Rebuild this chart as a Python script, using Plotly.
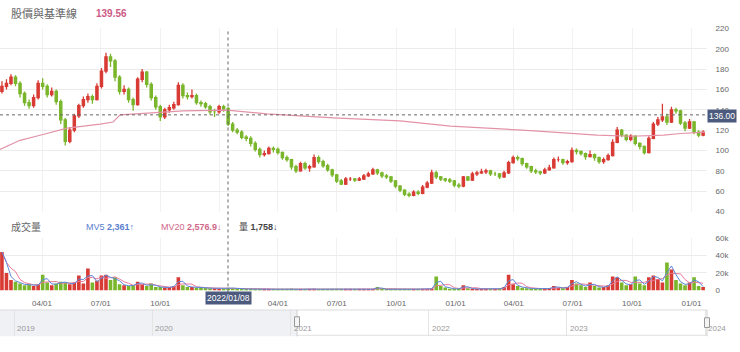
import pandas as pd
import plotly.graph_objects as go

# ---------------- data (weekly candles) ----------------
week_start = "2021-01-29"
opens = [158,163,166,172,166,156,147,144,152,166, 163,155,158,148,130,109,120,134,144,150,
         153,150,163,178,192,188,172,158,160,150, 145,170,177,165,152,143,133,140,142,145,
         164,154,153,154,147,146,143,138,138,143, 141,126,120,118,113,112,107,101,96,97,
         102,101,98,93,91,84,80,87,83,84, 93,89,85,81,76,70,67,72,72,71,
         72,75,77,81,78,75,74,70,65,61, 57,56,59,58,64,68,78,74,72,71,
         70,66,65,74,71,77,78,79,80,77, 77,74,78,88,93,92,87,84,80,79,
         78,81,83,91,91,88,89,100,99,97, 94,96,93,89,91,95,108,120,115,111,
         114,107,104,98,112,126,130,133,128,140, 139,127,122,128,118,115]
closes = [163,166,172,166,156,147,144,152,166,163, 155,158,148,130,109,120,134,144,150,153,
          150,163,178,192,188,172,158,160,150,145, 170,177,165,152,143,133,140,142,145,164,
          154,153,154,147,146,143,138,138,143,141, 126,120,118,113,112,107,101,96,97,102,
          101,98,93,91,84,80,87,83,84,93, 89,85,81,76,70,67,72,72,71,72,
          75,77,81,78,75,74,70,65,61,57, 56,59,58,64,68,78,74,72,71,70,
          66,65,74,71,77,78,79,80,77,77, 74,78,88,93,92,87,84,80,79,78,
          81,83,91,91,88,89,100,99,97,94, 96,93,89,91,95,108,120,115,111,114,
          107,104,98,112,126,130,133,128,140,139, 127,122,128,118,115,118]
highs = [168,170,175,174,168,158,150,155,169,171, 165,162,160,150,132,123,136,146,153,156,
         155,166,181,196,195,190,174,164,162,152, 172,180,178,167,154,145,142,145,148,167,
         166,157,160,156,149,148,145,141,145,145, 143,128,122,120,115,114,109,103,100,104,
         104,103,99,95,92,86,89,89,86,96, 95,91,87,82,77,72,74,74,73,74,
         77,79,83,82,79,77,75,71,66,62, 59,61,61,66,70,81,80,75,73,73,
         71,68,75,75,79,80,82,82,81,79, 78,80,90,95,95,93,88,85,82,80,
         83,86,93,94,92,91,103,102,100,98, 100,97,94,93,97,111,123,121,116,116,
         115,108,105,114,128,133,146,136,143,142, 140,129,131,129,120,120]
lows = [156,160,164,163,152,144,141,142,150,160, 152,153,145,126,105,107,118,132,142,147,
        146,149,161,176,182,168,155,155,147,139, 144,167,162,149,140,129,131,137,140,144,
        151,150,151,145,143,141,135,133,136,138, 124,118,116,111,109,104,99,93,94,96,
        98,96,91,89,81,78,79,81,79,83, 87,83,79,74,68,66,66,70,69,70,
        71,74,76,76,73,72,68,63,59,55, 54,55,56,57,63,67,72,70,69,68,
        64,63,64,70,70,75,77,77,75,75, 72,73,77,87,90,85,82,78,77,76,
        77,80,82,89,86,86,88,96,95,91, 93,90,87,87,90,94,107,113,109,109,
        105,101,96,97,111,124,128,125,127,136, 125,119,121,116,113,114]
volumes_k = [44,20,12,10,8,6,7,5,7,18, 9,6,8,10,9,7,9,17,8,25,
             9,11,17,18,12,15,7,6,5,6, 10,7,5,8,4,4,3,4,5,15,
             6,4,4,3,3,3,2.5,2.5,2,2, 3,2.5,2,2,1.5,1.8,1.2,1.5,2,1.3,
             1.6,1.2,1.8,1.5,2.2,1.4,1.2,1.6,2,1.3, 1.5,1.8,1.2,1.4,1.7,1.3,1.5,1.2,1.6,1.9,
             1.4,1.3,1.6,4,1.5,1.2,1.8,1.4,2,1.6, 1.3,1.5,1.8,1.4,1.6,2.2,16,5,3.5,2,
             1.8,2,6,2.5,2,1.6,1.8,1.5,2,1.7, 2.2,4,18,7,5,3,2.5,2,2.2,2,
             1.8,2.5,5,3,2.5,4,12,8,6,4, 9,5,3.5,4,6,16,15,9,6,7,
             16,8,6,15,17,13,9,32,24,12, 8,6,9,15,5,4]

base_dates = ["2021-01-26","2021-02-26","2021-03-29","2021-05-10","2021-06-30","2021-07-20",
              "2021-07-31","2021-09-15","2021-11-05","2022-01-12","2022-02-17","2022-03-15",
              "2022-06-26","2022-10-07","2022-12-24","2023-04-27","2023-08-08","2023-09-29",
              "2023-11-19","2023-12-15","2024-01-22"]
base_values = [101,110,115,122,126,128,135,137,139,139.6,137.5,136,132,129,124,119.5,115,114,
               115,116.7,118]

price_ticks = [40,60,80,100,120,140,160,180,200,220]
vol_ticks = [0,20000,40000,60000]
vol_tick_text = ["0","20k","40k","60k"]
quarter_ticks = ["2021-04-01","2021-07-01","2021-10-01","2022-01-01","2022-04-01","2022-07-01",
                 "2022-10-01","2023-01-01","2023-04-01","2023-07-01","2023-10-01","2024-01-01"]
# the 2022-01-01 label sits under the crosshair date box in the reference
vol_label_ticks = [d for d in quarter_ticks if d != "2022-01-01"]
year_ticks = ["2019-01-01","2020-01-01","2021-01-01","2022-01-01","2023-01-01","2024-01-01"]
year_labels = ["2019","2020","2021","2022","2023","2024"]

# ---------------- figure ----------------
W, H = 740, 352
RED = "#d83a34"
GREEN = "#7ab62c"
FONT = "Liberation Sans, Arial, Noto Sans CJK TC, sans-serif"

def px(x):
    return x / W

def py(y):
    return 1 - y / H

dates = pd.date_range(week_start, periods=len(closes), freq="7D")
volumes = pd.Series(volumes_k) * 1000
vol_colors = [RED if c >= o else GREEN for o, c in zip(opens, closes)]
mv_short = volumes.rolling(2, min_periods=1).mean()
mv_long = volumes.rolling(4, min_periods=1).mean()

fig = go.Figure()
fig.add_trace(go.Candlestick(
    x=dates, open=opens, high=highs, low=lows, close=closes,
    increasing=dict(line=dict(color=RED, width=1.3), fillcolor=RED),
    decreasing=dict(line=dict(color=GREEN, width=1.3), fillcolor=GREEN),
    whiskerwidth=0, xaxis="x", yaxis="y", showlegend=False, hoverinfo="skip"))
fig.add_trace(go.Scatter(x=base_dates, y=base_values, mode="lines",
                         line=dict(color="#e393a8", width=1.2), xaxis="x", yaxis="y",
                         showlegend=False, hoverinfo="skip"))
fig.add_trace(go.Bar(x=dates, y=volumes, marker=dict(color=vol_colors, line=dict(width=0)),
                     xaxis="x2", yaxis="y2", showlegend=False, hoverinfo="skip"))
fig.add_trace(go.Scatter(x=dates, y=mv_long, mode="lines", line=dict(color="#e87a9a", width=1),
                         xaxis="x2", yaxis="y2", showlegend=False, hoverinfo="skip"))
fig.add_trace(go.Scatter(x=dates, y=mv_short, mode="lines", line=dict(color="#5b86d6", width=1),
                         xaxis="x2", yaxis="y2", showlegend=False, hoverinfo="skip"))
fig.add_trace(go.Scatter(x=[year_ticks[0]], y=[0.5], mode="markers", marker=dict(opacity=0),
                         xaxis="x3", yaxis="y3", showlegend=False, hoverinfo="skip"))

xdom = [0, 707 / W]
xrange_main = ["2021-01-26", "2024-01-25"]
tickfont = dict(family=FONT, size=8, color="#666")

fig.update_layout(
    width=W, height=H, margin=dict(l=0, r=0, t=0, b=0),
    paper_bgcolor="white", plot_bgcolor="white", bargap=0.2,
    font=dict(family=FONT),
    xaxis=dict(domain=xdom, range=xrange_main, type="date", anchor="y",
               tickvals=quarter_ticks, showticklabels=False, showgrid=True,
               gridcolor="#f1f1f1", zeroline=False, showline=False,
               rangeslider=dict(visible=False)),
    yaxis=dict(domain=[py(213), py(25)], range=[40, 220], side="right", anchor="x",
               tickvals=price_ticks, showgrid=True, gridcolor="#ececec", zeroline=False,
               ticks="outside", ticklen=6, tickcolor="rgba(0,0,0,0)", tickfont=tickfont),
    xaxis2=dict(domain=xdom, range=xrange_main, type="date", anchor="y2",
                tickvals=vol_label_ticks, tickformat="%m/%d", showgrid=True,
                gridcolor="#f1f1f1", zeroline=False, showline=False, tickfont=tickfont,
                ticks="outside", ticklen=5, tickcolor="rgba(0,0,0,0)"),
    yaxis2=dict(domain=[py(294), py(240)], range=[0, 60000], side="right", anchor="x2",
                tickvals=vol_ticks, ticktext=vol_tick_text, showgrid=True,
                gridcolor="#ececec", zeroline=False, ticks="outside", ticklen=6,
                tickcolor="rgba(0,0,0,0)", tickfont=tickfont),
    xaxis3=dict(domain=xdom, range=["2018-11-25", "2024-01-06"], type="date", anchor="y3",
                tickvals=year_ticks, showticklabels=False, showgrid=True,
                gridcolor="#e4e4e4", zeroline=False, showline=False),
    yaxis3=dict(domain=[py(341), py(314)], range=[0, 1], visible=False, anchor="x3"),
)

shapes = [
    # navigator unselected area
    dict(type="rect", xref="paper", yref="paper", x0=0, x1=px(297), y0=py(341), y1=py(314),
         fillcolor="rgba(225,229,236,0.55)", line=dict(width=0), layer="below"),
    dict(type="line", xref="paper", yref="paper", x0=0, x1=px(707), y0=py(314), y1=py(314),
         line=dict(color="#dcdcdc", width=1)),
    dict(type="line", xref="paper", yref="paper", x0=px(297), x1=px(707), y0=py(340), y1=py(340),
         line=dict(color="#e2e2e2", width=1)),
    dict(type="line", xref="paper", yref="paper", x0=px(297), x1=px(297), y0=py(341), y1=py(314),
         line=dict(color="#cfcfcf", width=1)),
    dict(type="line", xref="paper", yref="paper", x0=px(707), x1=px(707), y0=py(341), y1=py(314),
         line=dict(color="#cfcfcf", width=1)),
    dict(type="rect", xref="paper", yref="paper", x0=px(294.5), x1=px(299.5), y0=py(331), y1=py(321),
         fillcolor="#f4f4f4", line=dict(color="#999", width=1)),
    dict(type="rect", xref="paper", yref="paper", x0=px(704.5), x1=px(709.5), y0=py(332), y1=py(322),
         fillcolor="#f4f4f4", line=dict(color="#999", width=1)),
    # crosshair
    dict(type="line", xref="paper", yref="paper", x0=px(228), x1=px(228), y0=py(296), y1=py(25),
         line=dict(color="#666", width=1, dash="dot")),
    dict(type="line", xref="paper", yref="y", x0=0, x1=px(707), y0=135, y1=135,
         line=dict(color="#666", width=1, dash="dot")),
]

annotations = [
    dict(text="股價與基準線", x=px(9), y=py(10), xanchor="left", yanchor="middle",
         font=dict(size=11, color="#666")),
    dict(text="<b>139.56</b>", x=px(94), y=py(10), xanchor="left", yanchor="middle",
         font=dict(size=10, color="#cc5a84")),
    dict(text="成交量", x=px(9), y=py(229), xanchor="left", yanchor="middle",
         font=dict(size=10, color="#666")),
    dict(text="MV5 <b>2,361</b>↑", x=px(84), y=py(229), xanchor="left", yanchor="middle",
         font=dict(size=9, color="#5b80cf")),
    dict(text="MV20 <b>2,576.9</b>↓", x=px(159), y=py(229), xanchor="left", yanchor="middle",
         font=dict(size=9, color="#d0688a")),
    dict(text="量 <b>1,758</b>↓", x=px(237), y=py(229), xanchor="left", yanchor="middle",
         font=dict(size=9, color="#444")),
    dict(text="136.00", x=px(722), y=py(114.5), xanchor="center", yanchor="middle",
         font=dict(size=8.5, color="white"), bgcolor="#4c5a7d", borderpad=1),
    dict(text="2022/01/08", x=px(228), y=py(302), xanchor="center", yanchor="middle",
         font=dict(size=8.5, color="white"), bgcolor="#4c5a7d", borderpad=1),
]
for d, lab in zip(year_ticks, year_labels):
    annotations.append(dict(text=lab, x=d, xref="x3", y=py(333), yref="paper",
                            xanchor="left", yanchor="middle", xshift=1,
                            font=dict(size=8, color="#9a9a9a")))
for a in annotations:
    a.setdefault("xref", "paper")
    a.setdefault("yref", "paper")
    a["showarrow"] = False

fig.update_layout(shapes=shapes, annotations=annotations)
fig.write_html("out.html")
